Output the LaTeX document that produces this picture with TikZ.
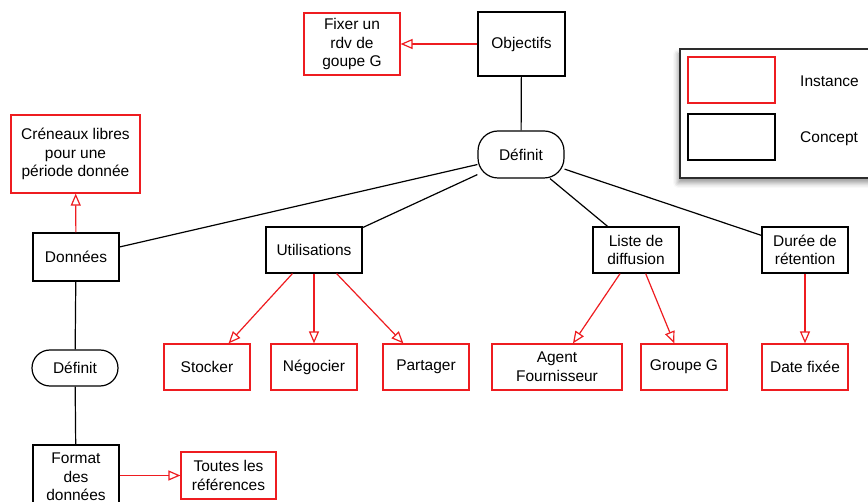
\documentclass[tikz,border=0pt]{standalone}
\usepackage{fontspec}
\setmainfont{Liberation Sans}
\usetikzlibrary{arrows.meta,shadows.blur}
\definecolor{inst}{RGB}{238,28,32}
\definecolor{frame}{RGB}{45,45,45}
\begin{document}
\begin{tikzpicture}[x=1pt,y=-1pt,
  sz/.style 2 args={minimum width=#1pt, minimum height=#2pt},
  box/.style={draw, line width=1.2pt, inner sep=0pt, align=center,
              font=\fontsize{15.5}{18.6}\selectfont, fill=white},
  concept/.style={box, draw=black},
  instance/.style={box, draw=inst},
  relation/.style={concept, rounded corners=#1pt},
  link/.style={draw=black, line width=1.2pt},
  isa/.style={draw=inst, line width=1.2pt,
              -{Triangle[length=12pt,width=10pt,fill=white]}},
  legendtxt/.style={anchor=west, inner sep=0pt, font=\fontsize{15.5}{18.6}\selectfont},
]
\useasboundingbox (0,0) rectangle (868,502);

% legend frame with its shadow
\node[draw=frame, line width=1.6pt, fill=white, sz={205}{129},
      blur shadow={shadow xshift=-2pt, shadow yshift=-5pt, shadow blur radius=5pt}]
      (legend) at (782.5,113.5) {};
\node[instance, sz={87}{46}] (legi) at (731.5,80) {};
\node[concept, sz={87}{46}] (legc) at (731.5,137) {};
\node[legendtxt] (legit) at (800,81.5) {Instance};
\node[legendtxt] (legct) at (800,138.5) {Concept};

% concepts
\node[concept, sz={87}{64}] (obj) at (521.5,44) {Objectifs};
\node[relation=20, sz={86}{47}] (def1) at (521,154.5) {Définit};
\node[concept, sz={86}{48}] (donnees) at (76,257) {Données};
\node[concept, sz={96}{46}] (util) at (314,250) {Utilisations};
\node[concept, sz={86}{46}] (liste) at (636,250) {Liste de\\diffusion};
\node[concept, sz={86}{46}] (duree) at (805,250) {Durée de\\rétention};
\node[relation=18, sz={86}{36}] (def2) at (75,368) {Définit};
\node[concept, sz={86}{64}] (format) at (76,477) {Format\\des\\données};

% instances
\node[instance, sz={96}{62}] (fixer) at (352,44) {Fixer un\\rdv de\\goupe G};
\node[instance, sz={129}{78}] (cren) at (75.5,154) {Créneaux libres\\pour une\\période donnée};
\node[instance, sz={86}{46}] (stocker) at (207,367) {Stocker};
\node[instance, sz={86}{46}] (nego) at (314,367) {Négocier};
\node[instance, sz={86}{46}] (partager) at (426,367) {Partager};
\node[instance, sz={130}{46}] (agent) at (557,367) {Agent\\Fournisseur};
\node[instance, sz={86}{46}] (groupe) at (684,367) {Groupe G};
\node[instance, sz={86}{46}] (date) at (805,367) {Date fixée};
\node[instance, sz={95}{47}] (toutes) at (228.5,475.5) {Toutes les\\références};

% concept links
\draw[link] (obj) -- (def1);
\draw[link] (def1) -- (donnees);
\draw[link] (def1) -- (util);
\draw[link] (def1) -- (liste);
\draw[link] (def1) -- (duree);
\draw[link] (donnees) -- (def2);
\draw[link] (def2) -- (format);

% instance links
\draw[isa] (obj) -- (fixer);
\draw[isa] (donnees) -- (cren);
\draw[isa] (util) -- (stocker);
\draw[isa] (util) -- (nego);
\draw[isa] (util) -- (partager);
\draw[isa] (liste) -- (agent);
\draw[isa] (liste) -- (groupe);
\draw[isa] (duree) -- (date);
\draw[isa] (format.east |- toutes.west) -- (toutes.west);
\end{tikzpicture}
\end{document}
